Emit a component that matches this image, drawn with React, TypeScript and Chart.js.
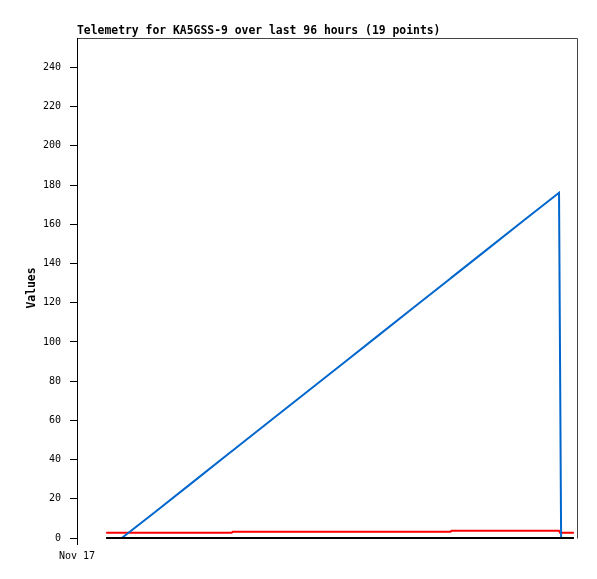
import React, { useEffect, useRef } from "react";
import { Chart, registerables } from "chart.js";

Chart.register(...registerables);

// Time of each telemetry point, hours since the left edge of the axis (Nov 17)
const hours = [5.6, 8.6, 15, 22, 29.7, 29.9, 37, 44, 51, 58, 65, 71.7, 71.9, 79, 86, 92.55, 92.75, 92.95, 95.4];
// Blue channel
const blueValues = [0, 0, 13.3, 28.0, 44.2, 44.6, 59.5, 74.2, 88.9, 103.6, 118.3, 132.3, 132.8, 147.7, 162.4, 176.1, 88.3, 0, 0];
// Red channel
const redValues = [2.7, 2.7, 2.7, 2.7, 2.7, 3.2, 3.2, 3.2, 3.2, 3.2, 3.2, 3.2, 3.7, 3.7, 3.7, 3.7, 2.7, 2.7, 2.7];
// Black channel
const blackValues = [0, 0, 0, 0, 0, 0, 0, 0, 0, 0, 0, 0, 0, 0, 0, 0, 0, 0, 0];

const yTicks = [0, 20, 40, 60, 80, 100, 120, 140, 160, 180, 200, 220, 240];
const xTicks = [0];
const xTickLabels = ["Nov 17"];
const titleText = "Telemetry for KA5GSS-9 over last 96 hours (19 points)";
const yAxisTitle = "Values";

const pts = (vals: number[]) => vals.map((v, i) => ({ x: hours[i], y: v }));

export default function App() {
  const ref = useRef<HTMLCanvasElement>(null);

  useEffect(() => {
    if (!ref.current) return;
    const framePlugin = {
      id: "frame",
      afterDraw(chart: any) {
        const { ctx, chartArea } = chart;
        const { left, top, right, bottom } = chartArea;
        ctx.save();
        ctx.strokeStyle = "#444444";
        ctx.lineWidth = 1;
        ctx.beginPath();
        ctx.moveTo(left, top + 0.5);
        ctx.lineTo(right + 0.5, top + 0.5);
        ctx.lineTo(right + 0.5, bottom + 0.5);
        ctx.stroke();
        ctx.strokeStyle = "#000000";
        ctx.beginPath();
        ctx.moveTo(left + 0.5, top);
        ctx.lineTo(left + 0.5, bottom + 1);
        ctx.stroke();
        ctx.fillStyle = "#000000";
        ctx.font = "bold 11.4px 'DejaVu Sans Mono'";
        ctx.textBaseline = "middle";
        ctx.textAlign = "left";
        ctx.fillText(titleText, left, 31);
        ctx.restore();
      },
    };

    const chart = new Chart(ref.current, {
      type: "line",
      data: {
        datasets: [
          {
            label: "black",
            data: pts(blackValues),
            borderColor: "#000000",
            borderWidth: 2,
            pointRadius: 0,
            tension: 0,
            order: 0,
            clip: 3,
          },
          {
            label: "blue",
            data: pts(blueValues),
            borderColor: "#0066cc",
            borderWidth: 2,
            pointRadius: 0,
            tension: 0,
            order: 1,
            clip: 3,
          },
          {
            label: "red",
            data: pts(redValues),
            borderColor: "#ff0000",
            borderWidth: 2,
            pointRadius: 0,
            tension: 0,
            order: 2,
            clip: 3,
          },
        ],
      },
      options: {
        animation: false,
        responsive: false,
        devicePixelRatio: 1,
        layout: { padding: { top: 38, right: 20, left: 0, bottom: 0 } },
        plugins: {
          legend: { display: false },
          title: { display: false },
          tooltip: { enabled: false },
        },
        scales: {
          x: {
            type: "linear",
            min: 0,
            max: 96,
            afterFit: (s: any) => {
              s.height = 41;
            },
            afterBuildTicks: (s: any) => {
              s.ticks = xTicks.map((v) => ({ value: v }));
            },
            border: { display: false },
            grid: {
              display: true,
              drawOnChartArea: false,
              drawTicks: true,
              tickLength: 7,
              color: "#000000",
            },
            ticks: {
              autoSkip: false,
              maxRotation: 0,
              padding: 5,
              color: "#000000",
              font: { family: "'DejaVu Sans Mono'", size: 10 },
              callback: (v: any) => {
                const i = xTicks.indexOf(Number(v));
                return i >= 0 ? xTickLabels[i] : "";
              },
            },
          },
          y: {
            type: "linear",
            min: 0,
            max: 255,
            afterFit: (s: any) => {
              s.width = 77;
            },
            afterBuildTicks: (s: any) => {
              s.ticks = yTicks.map((v) => ({ value: v }));
            },
            border: { display: true, color: "#000000", width: 1 },
            grid: {
              display: true,
              drawOnChartArea: false,
              drawTicks: true,
              tickLength: 7,
              color: "#000000",
            },
            ticks: {
              padding: 9,
              color: "#000000",
              font: { family: "'DejaVu Sans Mono'", size: 10 },
            },
            title: {
              display: true,
              text: yAxisTitle,
              color: "#000000",
              font: { family: "'DejaVu Sans Mono'", size: 11.4, weight: "bold" },
              padding: { top: 25, bottom: 0 },
            },
          },
        },
      },
      plugins: [framePlugin],
    });
    return () => chart.destroy();
  }, []);

  return (
    <div style={{ position: "fixed", left: 0, top: 0, width: 597, height: 579, background: "#ffffff" }}>
      <canvas ref={ref} width={597} height={579} style={{ display: "block" }} />
    </div>
  );
}
